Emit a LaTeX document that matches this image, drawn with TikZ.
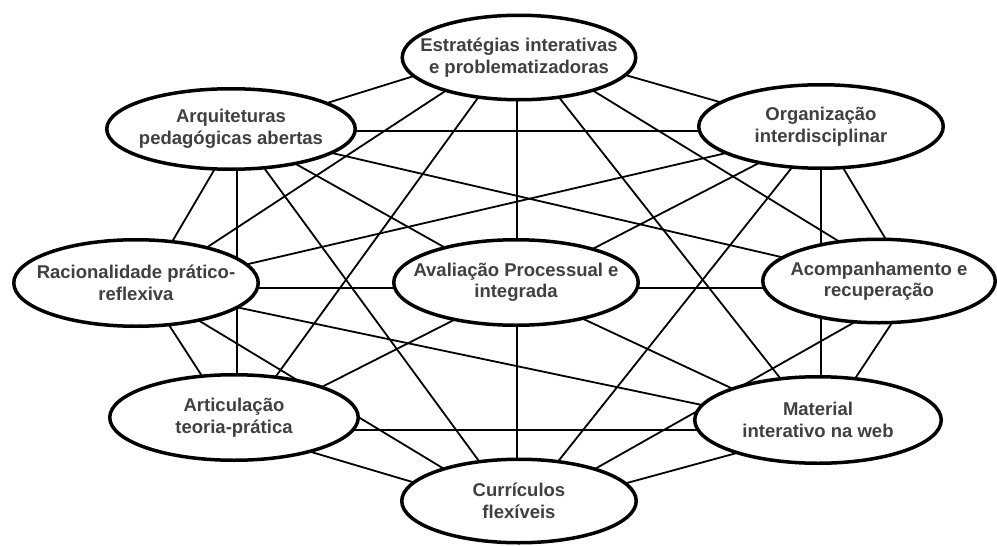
\documentclass[tikz,border=0pt]{standalone}
\usepackage{fontspec}
\setmainfont{Liberation Sans}
\usetikzlibrary{shapes.geometric}
\definecolor{txtgray}{RGB}{64,64,64}
\begin{document}
\begin{tikzpicture}[x=1pt,y=-1pt,
  link/.style={line width=1.8pt, draw=black},
  ell/.style={ellipse, draw=black, line width=3.5pt, fill=white, inner sep=0pt},
  txt/.style={align=center, text=txtgray, font=\bfseries\fontsize{18.5}{21.5}\selectfont, inner sep=0pt}]
\useasboundingbox[fill=white] (0,0) rectangle (997,546);
% hubs where the connectors meet
\coordinate (hE) at (517,44);
\coordinate (hO) at (821,131);
\coordinate (hA) at (915,288);
\coordinate (hM) at (821,430);
\coordinate (hC) at (517,513);
\coordinate (hT) at (237,430);
\coordinate (hR) at (145,288);
\coordinate (hQ) at (237,131);
\coordinate (hV) at (517,288);
% connectors
\foreach \a/\b in {V/E,V/O,V/A,V/M,V/C,V/T,V/R,V/Q,
                   E/O,O/A,A/M,M/C,C/T,T/R,R/Q,Q/E,
                   E/A,O/M,A/C,M/T,C/R,T/Q,R/E,Q/O,
                   E/M,O/C,M/R,C/Q,T/E,R/O,Q/A}
  \draw[link] (h\a) -- (h\b);
% ellipses
\node[ell, minimum width=233.5pt, minimum height=84.5pt] (E) at (519,57.5) {};
\node[ell, minimum width=248.5pt, minimum height=80.5pt] (Q) at (231,129) {};
\node[ell, minimum width=244.5pt, minimum height=83.5pt] (O) at (821,126.5) {};
\node[ell, minimum width=244.5pt, minimum height=86.5pt] (R) at (136,283) {};
\node[ell, minimum width=244.5pt, minimum height=85.5pt] (V) at (516,282.5) {};
\node[ell, minimum width=232.5pt, minimum height=83.5pt] (A) at (879,281) {};
\node[ell, minimum width=248.5pt, minimum height=85.5pt] (T) at (234,417.5) {};
\node[ell, minimum width=246.5pt, minimum height=86.5pt] (M) at (818,420) {};
\node[ell, minimum width=234.5pt, minimum height=83.5pt] (C) at (519,501) {};
% labels
\node[txt] (Et) at (E) {Estratégias interativas\\e problematizadoras};
\node[txt] (Qt) at (Q) {Arquiteturas\\pedagógicas abertas};
\node[txt] (Ot) at (O) {Organização\\interdisciplinar};
\node[txt] (Rt) at (R) {Racionalidade prático-\\reflexiva};
\node[txt] (Vt) at (V) {Avaliação Processual e\\integrada};
\node[txt] (At) at (A) {Acompanhamento e\\recuperação};
\node[txt] (Tt) at (T) {Articulação\\teoria-prática};
\node[txt] (Mt) at (M) {Material\\interativo na web};
\node[txt] (Ct) at (C) {Currículos\\flexíveis};
\end{tikzpicture}
\end{document}
